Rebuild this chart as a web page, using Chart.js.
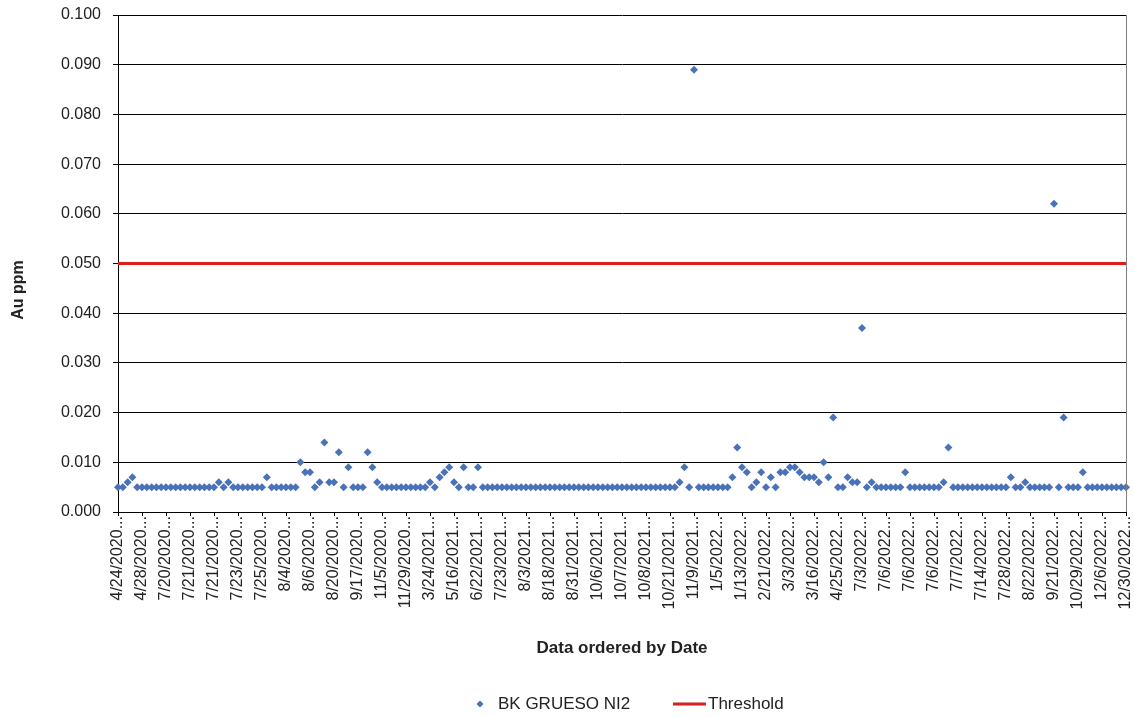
<!DOCTYPE html>
<html>
<head>
<meta charset="utf-8">
<script src="https://cdn.jsdelivr.net/npm/chart.js@4.4.1/dist/chart.umd.min.js"></script>
<style>
  html, body { margin: 0; padding: 0; background: #fff; }
  #wrap { width: 1134px; height: 717px; }
</style>
</head>
<body>
<div id="wrap"><canvas id="auChart" width="1134" height="717"></canvas></div>
<script>
// Category labels shown on the axis (one every 5 samples)
const tickLabels = [
    '4/24/2020', '4/28/2020', '7/20/2020', '7/21/2020', '7/21/2020', '7/23/2020', '7/25/2020',
    '8/4/2020', '8/6/2020', '8/20/2020', '9/17/2020', '11/5/2020', '11/29/2020', '3/24/2021',
    '5/16/2021', '6/22/2021', '7/23/2021', '8/3/2021', '8/18/2021', '8/31/2021', '10/6/2021',
    '10/7/2021', '10/8/2021', '10/21/2021', '11/9/2021', '1/5/2022', '1/13/2022', '2/21/2022',
    '3/3/2022', '3/16/2022', '4/25/2022', '7/3/2022', '7/6/2022', '7/6/2022', '7/6/2022',
    '7/7/2022', '7/14/2022', '7/28/2022', '8/22/2022', '9/21/2022', '10/29/2022', '12/6/2022',
    '12/30/2022'
];
const labelStep = 5;

// Au ppm, BK GRUESO NI2 samples in date order
const auValues = [
    0.005, 0.005, 0.006, 0.007, 0.005, 0.005, 0.005, 0.005, 0.005, 0.005,
    0.005, 0.005, 0.005, 0.005, 0.005, 0.005, 0.005, 0.005, 0.005, 0.005,
    0.005, 0.006, 0.005, 0.006, 0.005, 0.005, 0.005, 0.005, 0.005, 0.005,
    0.005, 0.007, 0.005, 0.005, 0.005, 0.005, 0.005, 0.005, 0.010, 0.008,
    0.008, 0.005, 0.006, 0.014, 0.006, 0.006, 0.012, 0.005, 0.009, 0.005,
    0.005, 0.005, 0.012, 0.009, 0.006, 0.005, 0.005, 0.005, 0.005, 0.005,
    0.005, 0.005, 0.005, 0.005, 0.005, 0.006, 0.005, 0.007, 0.008, 0.009,
    0.006, 0.005, 0.009, 0.005, 0.005, 0.009, 0.005, 0.005, 0.005, 0.005,
    0.005, 0.005, 0.005, 0.005, 0.005, 0.005, 0.005, 0.005, 0.005, 0.005,
    0.005, 0.005, 0.005, 0.005, 0.005, 0.005, 0.005, 0.005, 0.005, 0.005,
    0.005, 0.005, 0.005, 0.005, 0.005, 0.005, 0.005, 0.005, 0.005, 0.005,
    0.005, 0.005, 0.005, 0.005, 0.005, 0.005, 0.005, 0.006, 0.009, 0.005,
    0.089, 0.005, 0.005, 0.005, 0.005, 0.005, 0.005, 0.005, 0.007, 0.013,
    0.009, 0.008, 0.005, 0.006, 0.008, 0.005, 0.007, 0.005, 0.008, 0.008,
    0.009, 0.009, 0.008, 0.007, 0.007, 0.007, 0.006, 0.010, 0.007, 0.019,
    0.005, 0.005, 0.007, 0.006, 0.006, 0.037, 0.005, 0.006, 0.005, 0.005,
    0.005, 0.005, 0.005, 0.005, 0.008, 0.005, 0.005, 0.005, 0.005, 0.005,
    0.005, 0.005, 0.006, 0.013, 0.005, 0.005, 0.005, 0.005, 0.005, 0.005,
    0.005, 0.005, 0.005, 0.005, 0.005, 0.005, 0.007, 0.005, 0.005, 0.006,
    0.005, 0.005, 0.005, 0.005, 0.005, 0.062, 0.005, 0.019, 0.005, 0.005,
    0.005, 0.008, 0.005, 0.005, 0.005, 0.005, 0.005, 0.005, 0.005, 0.005,
    0.005
];

const thresholdValue = 0.05;
const seriesName = 'BK GRUESO NI2';
const thresholdName = 'Threshold';
const yTitle = 'Au ppm';
const xTitle = 'Data ordered by Date';

const FONT = '"Liberation Sans", Arial, sans-serif';
const TEXT = '#222222';
const BLUE = '#4a72b8';
const RED = '#dc1e1e';

// one category per sample; only every 5th one carries a visible date
const categories = auValues.map((v, i) => (i % labelStep === 0 ? tickLabels[i / labelStep] : ''));
const thresholdLine = auValues.map(() => thresholdValue);

// y title, legend under the chart, right border of the plot area
const extras = {
    id: 'extras',
    afterDraw(chart) {
        const ctx = chart.ctx;
        const area = chart.chartArea;
        ctx.save();
        ctx.strokeStyle = '#808080';
        ctx.lineWidth = 1;
        ctx.beginPath();
        ctx.moveTo(Math.round(area.right) + 0.5, area.top);
        ctx.lineTo(Math.round(area.right) + 0.5, area.bottom);
        ctx.stroke();

        // y axis title
        ctx.save();
        ctx.translate(19, 290);
        ctx.rotate(-Math.PI / 2);
        ctx.font = 'bold 16px ' + FONT;
        ctx.fillStyle = TEXT;
        ctx.textAlign = 'center';
        ctx.textBaseline = 'middle';
        ctx.fillText(yTitle, 0, 0);
        ctx.restore();

        const y = 704;
        ctx.font = '17px ' + FONT;
        ctx.textBaseline = 'middle';
        ctx.fillStyle = BLUE;
        ctx.beginPath();
        ctx.moveTo(480, y - 3.5);
        ctx.lineTo(483.5, y);
        ctx.lineTo(480, y + 3.5);
        ctx.lineTo(476.5, y);
        ctx.closePath();
        ctx.fill();
        ctx.fillStyle = TEXT;
        ctx.fillText(chart.data.datasets[0].label, 498, y);

        ctx.strokeStyle = RED;
        ctx.lineWidth = 3;
        ctx.beginPath();
        ctx.moveTo(673, y);
        ctx.lineTo(706, y);
        ctx.stroke();
        ctx.fillText(chart.data.datasets[1].label, 708, y);
        ctx.restore();
    }
};

new Chart(document.getElementById('auChart').getContext('2d'), {
    type: 'line',
    data: {
        labels: categories,
        datasets: [{
            label: seriesName,
            data: auValues,
            showLine: false,
            pointStyle: 'rectRot',
            pointRadius: 4,
            pointBackgroundColor: BLUE,
            pointBorderColor: BLUE,
            pointBorderWidth: 0,
            order: 1,
        }, {
            label: thresholdName,
            data: thresholdLine,
            borderColor: RED,
            borderWidth: 3,
            pointRadius: 0,
            fill: false,
            order: 2,
        }],
    },
    options: {
        responsive: false,
        animation: false,
        devicePixelRatio: 1,
        layout: { padding: { top: 15, right: 8, left: 0, bottom: 0 } },
        plugins: {
            legend: { display: false },
            tooltip: { enabled: false },
        },
        scales: {
            x: {
                offset: false,
                afterFit(scale) {
                    scale.height = 205;
                    scale.paddingLeft = 0;
                    scale.paddingRight = 0;
                },
                grid: {
                    drawOnChartArea: false,
                    tickLength: 4,
                    color: (c) => (c.index % labelStep === 0 ? '#000000' : 'rgba(0,0,0,0)'),
                },
                border: { color: '#000000', width: 1 },
                ticks: {
                    autoSkip: false,
                    minRotation: 90,
                    maxRotation: 90,
                    padding: 0,
                    color: TEXT,
                    font: { family: FONT, size: 16 },
                    // the dates are cut short on the axis, hence the trailing dots
                    callback: (v, i) => (categories[i] ? categories[i] + '...' : ''),
                },
                title: {
                    display: true,
                    text: xTitle,
                    color: TEXT,
                    font: { family: FONT, size: 17, weight: 'bold' },
                    padding: { top: 0, bottom: 58 },
                },
            },
            y: {
                min: 0,
                max: 0.1,
                afterFit(scale) {
                    scale.width = 118;
                    scale.paddingTop = 0;
                    scale.paddingBottom = 0;
                },
                grid: { color: '#000000', lineWidth: 1, tickLength: 5 },
                border: { color: '#000000', width: 1 },
                ticks: {
                    stepSize: 0.01,
                    padding: 12,
                    color: TEXT,
                    font: { family: FONT, size: 16 },
                    callback: (v) => v.toFixed(3),
                },
            },
        },
    },
    plugins: [extras],
});
</script>
</body>
</html>
